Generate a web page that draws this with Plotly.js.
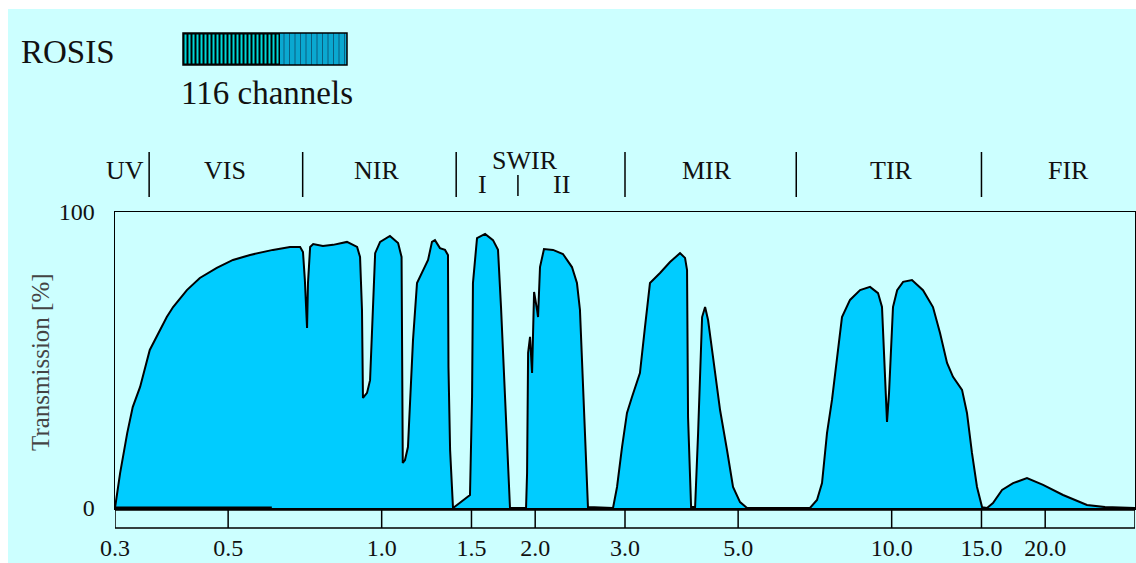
<!DOCTYPE html>
<html>
<head>
<meta charset="utf-8">
<script src="https://cdn.plot.ly/plotly-3.0.1.min.js"></script>
<style>html,body{margin:0;padding:0;background:#fff;}#chart{width:1136px;height:563px;}</style>
</head>
<body>
<div id="chart"></div>
<script>
// ---- data (wavelength in µm, atmospheric transmission in %) ----
const wavelength = [0.300,0.307,0.317,0.325,0.336,0.351,0.379,0.390,0.415,0.440,0.475,0.511,0.552,0.612,0.661,0.692,0.701,0.707,0.714,0.717,0.724,0.734,0.767,0.803,0.855,0.895,0.907,0.915,0.919,0.936,0.949,0.957,0.962,0.971,0.993,1.038,1.077,1.094,1.100,1.111,1.126,1.136,1.152,1.173,1.205,1.233,1.255,1.272,1.301,1.331,1.349,1.352,1.362,1.380,1.405,1.490,1.504,1.510,1.538,1.595,1.653,1.691,1.714,1.729,1.761,1.777,1.785,1.919,1.928,1.937,1.954,1.972,1.981,1.990,2.017,2.026,2.044,2.081,2.168,2.267,2.361,2.415,2.448,2.482,2.515,2.538,2.842,2.894,2.960,3.027,3.096,3.209,3.283,3.358,3.514,3.676,3.846,3.934,3.970,3.988,4.043,4.117,4.173,4.249,4.307,4.365,4.464,4.608,4.755,4.886,5.043,5.205,6.915,7.138,7.302,7.468,7.638,7.812,7.991,8.286,8.671,9.070,9.403,9.573,9.704,9.792,9.882,10.06,10.25,10.53,10.96,11.52,12.05,12.44,12.84,13.19,13.74,14.05,14.37,14.70,15.04,15.38,15.80,16.46,17.30,18.42,19.81,21.68,24.15,26.20,30.0];
const transmission = [0,11.8,25.3,34.1,40.9,53.4,64.5,67.9,73.6,77.7,81.1,83.8,85.5,87.2,88.2,88.2,86.5,77.0,60.8,76.0,88.2,89.2,88.5,88.9,89.9,88.2,84.8,66.9,37.2,38.9,43.2,59.1,74.7,86.1,89.9,91.9,89.5,84.8,15.2,16.2,20.6,33.1,56.8,76.0,80.4,83.8,89.9,90.5,87.8,87.2,85.5,47.6,19.6,0,1.0,4.4,37.5,76.0,91.2,92.6,90.5,87.2,67.9,52.4,24.0,9.5,0,0,11.8,52.4,57.8,45.6,62.5,73.0,66.9,64.5,81.4,87.5,87.2,85.8,81.4,76.0,66.9,40.9,16.2,0.3,0,7.1,20.6,32.1,37.5,45.6,61.1,76.0,79.4,83.1,86.1,84.5,80.4,30.7,0.3,0.3,25.3,64.5,67.9,63.5,51.0,33.1,19.6,7.1,2.0,0,0,2.7,8.4,25.3,36.5,50.0,64.5,70.3,73.6,74.7,72.6,67.9,42.2,29.1,38.9,67.9,73.6,76.4,77.0,73.6,67.9,59.1,49.0,44.3,39.9,32.1,18.6,7.1,0.3,0,1.7,6.1,8.4,10.1,7.8,4.4,1.0,0.3,0];
const baseMarkX = [0.3, 0.609];
const baseMarkY = [0, 0];

const tickVals = [0.3, 0.5, 1.0, 1.5, 2.0, 3.0, 5.0, 10.0, 15.0, 20.0];
const tickText = ['0.3','0.5','1.0','1.5','2.0','3.0','5.0','10.0','15.0','20.0'];
const yTickVals = [0, 100];
const yTickText = ['0', '100'];

const bandNames = ['UV','VIS','NIR','MIR','TIR','FIR'];
const bandLabelX = [0.314, 0.493, 0.975, 4.34, 10.0, 22.2];
const bandEdges = [0.35, 0.70, 1.40, 3.0, 6.5, 15.0];
const swirName = 'SWIR';
const swirLabelX = 1.91;
const swirSubNames = ['I', 'II'];
const swirSubX = [1.58, 2.257];
const swirSplit = 1.85;

const sensorName = 'ROSIS';
const sensorChannels = '116 channels';

// ---- layout helpers (pixel -> paper) ----
const W = 1136, H = 563, ML = 115, MR = 1, MT = 212, MB = 55;
const PW = W - ML - MR, PH = H - MT - MB;
const px = X => (X - ML) / PW;
const py = Y => (H - MB - Y) / PH;
const serif = '"Liberation Serif"';

const shapes = [];
// page background: light cyan with white edge at top/left
shapes.push({type:'rect', xref:'paper', yref:'paper', x0:px(8), x1:px(W+5), y0:py(H+5), y1:py(9),
  fillcolor:'#CCFFFF', line:{width:0}, layer:'below'});

// band separators
bandEdges.forEach(e => shapes.push({type:'line', xref:'x', yref:'paper', x0:e, x1:e, y0:py(197), y1:py(152),
  line:{color:'#000', width:1.5}}));
shapes.push({type:'line', xref:'x', yref:'paper', x0:swirSplit, x1:swirSplit, y0:py(196), y1:py(175),
  line:{color:'#000', width:1.5}});

// tick ruler under the plot
shapes.push({type:'rect', xref:'x', yref:'paper', x0:tickVals[0], x1:30, y0:py(528), y1:py(510),
  fillcolor:'rgba(0,0,0,0)', line:{color:'#000', width:1.5}});
tickVals.slice(1).forEach(t => shapes.push({type:'line', xref:'x', yref:'paper', x0:t, x1:t, y0:py(528), y1:py(510),
  line:{color:'#000', width:1.5}}));

// ROSIS channel bar
const barL = 183, barM = 280, barR = 347, barT = 33, barB = 65;
shapes.push({type:'rect', xref:'paper', yref:'paper', x0:px(barL), x1:px(barM), y0:py(barB), y1:py(barT),
  fillcolor:'#000', line:{width:0}});
for (let s = barL + 1.5; s < barM - 1.5; s += 4) {
  shapes.push({type:'rect', xref:'paper', yref:'paper', x0:px(s), x1:px(s + 2), y0:py(barB - 1.5), y1:py(barT + 1.5),
    fillcolor:'#00D8D8', line:{width:0}});
}
shapes.push({type:'rect', xref:'paper', yref:'paper', x0:px(barM), x1:px(barR), y0:py(barB), y1:py(barT),
  fillcolor:'#0AA8D0', line:{width:0}});
for (let s = barM + 4; s < barR - 1; s += 5.5) {
  shapes.push({type:'line', xref:'paper', yref:'paper', x0:px(s), x1:px(s), y0:py(barB), y1:py(barT),
    line:{color:'#0B5F80', width:1}});
}
shapes.push({type:'rect', xref:'paper', yref:'paper', x0:px(barL), x1:px(barR), y0:py(barB), y1:py(barT),
  fillcolor:'rgba(0,0,0,0)', line:{color:'#000', width:1.5}});

// annotations
const annotations = [];
bandNames.forEach((n, i) => annotations.push({text:n, x:Math.log10(bandLabelX[i]), xref:'x', y:py(170), yref:'paper',
  showarrow:false, xanchor:'center', yanchor:'middle', font:{family:serif, size:26, color:'#111'}}));
annotations.push({text:swirName, x:Math.log10(swirLabelX), xref:'x', y:py(160), yref:'paper',
  showarrow:false, xanchor:'center', yanchor:'middle', font:{family:serif, size:26, color:'#111'}});
swirSubNames.forEach((n, i) => annotations.push({text:n, x:Math.log10(swirSubX[i]), xref:'x', y:py(184), yref:'paper',
  showarrow:false, xanchor:'center', yanchor:'middle', font:{family:serif, size:26, color:'#111'}}));
annotations.push({text:sensorName, x:px(19), xref:'paper', y:py(52), yref:'paper', xanchor:'left', yanchor:'middle',
  showarrow:false, font:{family:serif, size:33, color:'#111'}});
annotations.push({text:sensorChannels, x:px(179), xref:'paper', y:py(93), yref:'paper', xanchor:'left', yanchor:'middle',
  showarrow:false, font:{family:serif, size:33, color:'#111'}});
annotations.push({text:'Transmission [%]', x:px(40), xref:'paper', y:py(362), yref:'paper', textangle:-90,
  xanchor:'center', yanchor:'middle', showarrow:false, font:{family:serif, size:25, color:'#444'}});

const traces = [
  {x:wavelength, y:transmission, type:'scatter', mode:'lines', fill:'tozeroy', fillcolor:'#00CCFF',
   line:{color:'#000', width:2}, hoverinfo:'x+y', name:'Transmission'},
  {x:baseMarkX, y:baseMarkY, type:'scatter', mode:'lines', line:{color:'#000', width:3}, hoverinfo:'skip', name:'base'}
];

const layout = {
  width:W, height:H,
  margin:{l:ML, r:MR, t:MT, b:MB, pad:0},
  paper_bgcolor:'#ffffff',
  plot_bgcolor:'#808080',
  showlegend:false,
  xaxis:{type:'log', range:[Math.log10(0.3), Math.log10(30)], tickvals:tickVals, ticktext:tickText,
    ticks:'', showgrid:false, zeroline:false, showline:true, mirror:true, linecolor:'#000', linewidth:1.5,
    ticklabelstandoff:18, tickfont:{family:serif, size:24, color:'#111'}, fixedrange:true},
  yaxis:{range:[0, 100], tickvals:yTickVals, ticktext:yTickText, ticks:'', showgrid:false, zeroline:false,
    showline:true, mirror:true, linecolor:'#000', linewidth:1.5, ticklabelstandoff:14,
    tickfont:{family:serif, size:24, color:'#111'}, fixedrange:true},
  shapes:shapes,
  annotations:annotations
};

Plotly.newPlot('chart', traces, layout, {displayModeBar:false, staticPlot:true});
</script>
</body>
</html>
